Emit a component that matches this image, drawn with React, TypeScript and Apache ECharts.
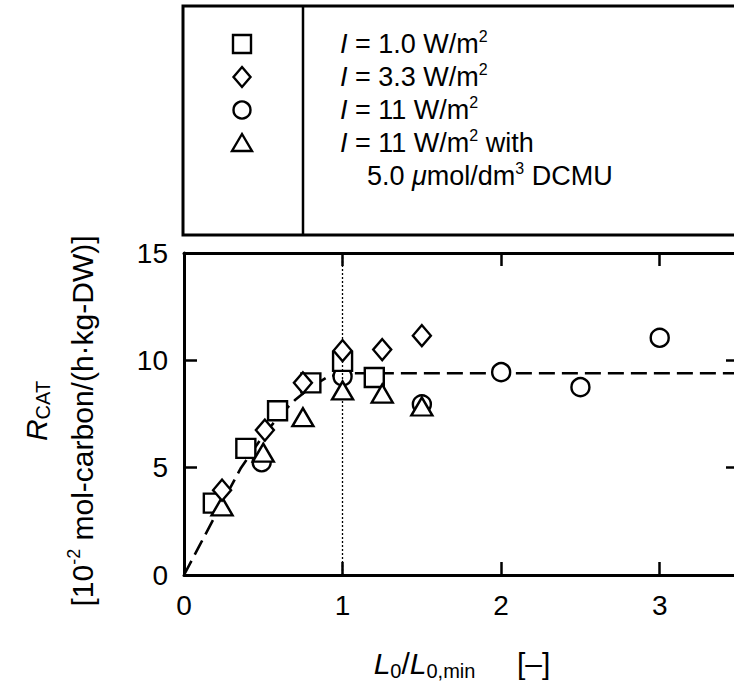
import React, { useEffect, useRef } from "react";
import * as echarts from "echarts";

// ---- data ----
const xTickValues = [0, 1, 2, 3];
const yTickValues = [0, 5, 10, 15];

// I = 1.0 W/m2 (squares)
const squareX = [0.185, 0.39, 0.59, 0.8, 1.0, 1.2];
const squareY = [3.35, 5.9, 7.65, 8.95, 9.95, 9.2];
// I = 3.3 W/m2 (diamonds)
const diamondX = [0.24, 0.51, 0.75, 1.0, 1.25, 1.5];
const diamondY = [3.95, 6.75, 8.95, 10.45, 10.5, 11.15];
// I = 11 W/m2 (circles)
const circleX = [0.49, 1.0, 1.5, 2.0, 2.5, 3.0];
const circleY = [5.25, 9.25, 7.95, 9.45, 8.75, 11.05];
// I = 11 W/m2 with DCMU (triangles)
const triangleX = [0.24, 0.5, 0.75, 1.0, 1.25, 1.5];
const triangleY = [3.2, 5.7, 7.35, 8.6, 8.45, 7.85];
// dashed fitted curve
const fitX = [0, 0.1, 0.2, 0.36, 0.5, 0.6, 0.7, 0.8, 0.9, 1.0, 3.5];
const fitY = [0, 1.4, 2.8, 5.0, 6.5, 7.4, 8.15, 8.75, 9.2, 9.4, 9.4];
// vertical dotted reference line
const refLineX = 1;

const legendLabels = [
  "{i|I}{n| = 1.0 W/m}{sup|2}",
  "{i|I}{n| = 3.3 W/m}{sup|2}",
  "{i|I}{n| = 11 W/m}{sup|2}",
  "{i|I}{n| = 11 W/m}{sup|2}{n| with}",
  "{n|5.0 }{i|\u03bc}{n|mol/dm}{sup|3}{n| DCMU}",
];

const FONT = "'Liberation Sans', Arial, Helvetica, sans-serif";

const zip = (xs: number[], ys: number[]) => xs.map((x, i) => [x, ys[i]]);

export default function App() {
  const ref = useRef<HTMLDivElement>(null);

  useEffect(() => {
    const chart = echarts.init(ref.current!, null, { renderer: "svg" });

    const mkRich = (fs: number) => ({
      n: { fontSize: fs, fontFamily: FONT, color: "#000", lineHeight: fs + 5 },
      i: { fontSize: fs, fontFamily: FONT, color: "#000", fontStyle: "italic", lineHeight: fs + 5 },
      sup: { fontSize: Math.round(fs * 0.6), fontFamily: FONT, color: "#000", verticalAlign: "top", lineHeight: Math.round(fs * 0.6) },
      sub: { fontSize: Math.round(fs * 0.68), fontFamily: FONT, color: "#000", verticalAlign: "bottom", lineHeight: Math.round(fs * 0.68) },
    });

    const lineCommon = { color: "#000" };
    const xAxisBase = {
      type: "value",
      min: 0,
      max: 3.5,
      interval: 1,
      axisLine: { show: true, onZero: false, lineStyle: { ...lineCommon, width: 3 } },
      axisTick: { show: true, inside: true, length: 13, lineStyle: { ...lineCommon, width: 2.5 } },
      splitLine: { show: false },
    };
    const yAxisBase = {
      type: "value",
      min: 0,
      max: 15,
      interval: 5,
      axisLine: { show: true, onZero: false, lineStyle: { ...lineCommon, width: 3 } },
      axisTick: { show: true, inside: true, length: 13, lineStyle: { ...lineCommon, width: 2.5 } },
      splitLine: { show: false },
    };

    const scatterStyle = { color: "#fff", borderColor: "#000", borderWidth: 2.4, opacity: 1 };

    // legend box geometry
    const boxL = 183, boxT = 6, boxB = 235, divX = 303, symX = 242, textX = 340, textX2 = 367;
    const rowY = [44, 77, 110, 143, 176];

    const option: any = {
      animation: false,
      backgroundColor: "#fff",
      textStyle: { fontFamily: FONT },
      grid: { left: 184, top: 253, width: 555, height: 322, containLabel: false },
      xAxis: [
        {
          ...xAxisBase,
          position: "bottom",
          axisLabel: {
            color: "#000",
            fontSize: 28,
            fontFamily: FONT,
            margin: 16,
            showMaxLabel: false,
            formatter: (v: number) => (xTickValues.includes(v) ? String(v) : ""),
          },
        },
        { ...xAxisBase, position: "top", axisLabel: { show: false } },
      ],
      yAxis: [
        {
          ...yAxisBase,
          position: "left",
          axisLabel: {
            color: "#000",
            fontSize: 28,
            fontFamily: FONT,
            margin: 16,
            formatter: (v: number) => (yTickValues.includes(v) ? String(v) : ""),
          },
        },
        { ...yAxisBase, position: "right", axisLabel: { show: false } },
      ],
      series: [
        {
          name: "fit",
          type: "line",
          data: zip(fitX, fitY),
          symbol: "none",
          lineStyle: { color: "#000", width: 2.6, type: [16, 7] },
          z: 2,
          markLine: {
            silent: true,
            symbol: "none",
            label: { show: false },
            lineStyle: { color: "#000", width: 1.3, type: [2, 2] },
            data: [{ xAxis: refLineX }],
          },
        },
        {
          name: "I = 11 W/m2",
          type: "scatter",
          data: zip(circleX, circleY),
          symbol: "circle",
          symbolSize: 18,
          itemStyle: scatterStyle,
          z: 3,
        },
        {
          name: "I = 1.0 W/m2",
          type: "scatter",
          data: zip(squareX, squareY),
          symbol: "rect",
          symbolSize: 19,
          itemStyle: scatterStyle,
          z: 4,
        },
        {
          name: "I = 11 W/m2 with DCMU",
          type: "scatter",
          data: zip(triangleX, triangleY),
          symbol: "triangle",
          symbolSize: [21, 18],
          itemStyle: scatterStyle,
          z: 5,
        },
        {
          name: "I = 3.3 W/m2",
          type: "scatter",
          data: zip(diamondX, diamondY),
          symbol: "diamond",
          symbolSize: [18, 21],
          itemStyle: scatterStyle,
          z: 6,
        },
      ],
      graphic: [
        // legend frame
        {
          type: "rect",
          shape: { x: boxL, y: boxT, width: 620, height: boxB - boxT },
          style: { fill: "none", stroke: "#000", lineWidth: 3 },
        },
        {
          type: "line",
          shape: { x1: divX, y1: boxT, x2: divX, y2: boxB },
          style: { stroke: "#000", lineWidth: 2.5 },
        },
        // legend symbols
        {
          type: "rect",
          shape: { x: symX - 9, y: rowY[0] - 9, width: 18, height: 18 },
          style: { fill: "#fff", stroke: "#000", lineWidth: 2.4 },
        },
        {
          type: "polygon",
          shape: { points: [[symX, rowY[1] - 10], [symX + 8.5, rowY[1]], [symX, rowY[1] + 10], [symX - 8.5, rowY[1]]] },
          style: { fill: "#fff", stroke: "#000", lineWidth: 2.4 },
        },
        {
          type: "circle",
          shape: { cx: symX, cy: rowY[2], r: 8.5 },
          style: { fill: "#fff", stroke: "#000", lineWidth: 2.4 },
        },
        {
          type: "polygon",
          shape: { points: [[symX, rowY[3] - 9], [symX + 10, rowY[3] + 8], [symX - 10, rowY[3] + 8]] },
          style: { fill: "#fff", stroke: "#000", lineWidth: 2.4 },
        },
        // legend texts
        ...legendLabels.map((t, k) => ({
          type: "text",
          x: k === 4 ? textX2 : textX,
          y: rowY[k],
          style: {
            text: t,
            rich: mkRich(27),
            fontSize: 27,
            fontFamily: FONT,
            fill: "#000",
            align: "left",
            verticalAlign: "middle",
            textAlign: "left",
            textVerticalAlign: "middle",
          },
        })),
        // y axis name, line 1
        {
          type: "text",
          x: 36,
          y: 411,
          rotation: Math.PI / 2,
          style: {
            text: "{r|R}{s|CAT}",
            rich: {
              r: { fontSize: 30, fontFamily: FONT, fontStyle: "italic", color: "#000", lineHeight: 34 },
              s: { fontSize: 20, fontFamily: FONT, color: "#000", verticalAlign: "bottom", lineHeight: 20 },
            },
            fill: "#000",
            align: "center",
            verticalAlign: "middle",
            textAlign: "center",
            textVerticalAlign: "middle",
          },
        },
        // y axis name, line 2
        {
          type: "text",
          x: 82,
          y: 421,
          rotation: Math.PI / 2,
          style: {
            text: "{n|[10}{sup|-2}{n| mol-carbon/(h\u00b7kg-DW)]}",
            rich: mkRich(30),
            fill: "#000",
            align: "center",
            verticalAlign: "middle",
            textAlign: "center",
            textVerticalAlign: "middle",
          },
        },
        // x axis name
        {
          type: "text",
          x: 462,
          y: 663,
          style: {
            text: "{i|L}{sub|0}{n|/}{i|L}{sub|0,min}{n|     [\u2013]}",
            rich: mkRich(30),
            fill: "#000",
            align: "center",
            verticalAlign: "middle",
            textAlign: "center",
            textVerticalAlign: "middle",
          },
        },
      ],
    };

    chart.setOption(option);
    return () => chart.dispose();
  }, []);

  return (
    <div
      style={{
        position: "fixed",
        left: 0,
        top: 0,
        width: 734,
        height: 688,
        overflow: "hidden",
        background: "#fff",
      }}
    >
      <div ref={ref} style={{ width: 760, height: 688 }} />
    </div>
  );
}
